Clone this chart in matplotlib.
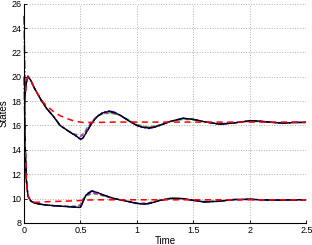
import matplotlib
matplotlib.use('Agg')
import matplotlib.pyplot as plt

plt.rcParams['font.family'] = ['Liberation Sans', 'DejaVu Sans']

# time grid
t = [0, 0.01, 0.02, 0.035, 0.06, 0.09, 0.12, 0.157, 0.2, 0.26, 0.32, 0.4, 0.45, 0.5, 0.52, 0.55,
     0.6, 0.65, 0.7, 0.75, 0.8, 0.85, 0.9, 0.95, 1.0, 1.05, 1.1, 1.15, 1.2, 1.3, 1.41, 1.5,
     1.6, 1.73, 1.85, 2.0, 2.1, 2.2, 2.3, 2.4, 2.5]

upper_black = [17.0, 18.6, 19.5, 20.05, 19.7, 19.1, 18.6, 18.0, 17.4, 16.75, 16.0, 15.5, 15.2, 14.9, 14.95, 15.4,
               16.2, 16.75, 17.05, 17.15, 17.05, 16.85, 16.55, 16.25, 16.0, 15.85, 15.8, 15.85, 16.0, 16.35, 16.6, 16.5,
               16.3, 16.1, 16.2, 16.4, 16.35, 16.25, 16.2, 16.25, 16.25]
upper_blue = [25.0, 18.6, 19.5, 20.05, 19.7, 19.1, 18.6, 18.0, 17.4, 16.75, 16.0, 15.5, 15.2, 14.85, 14.95, 15.4,
              16.2, 16.75, 17.1, 17.2, 17.1, 16.85, 16.55, 16.25, 16.0, 15.85, 15.75, 15.85, 16.0, 16.35, 16.6, 16.5,
              16.3, 16.1, 16.2, 16.4, 16.35, 16.25, 16.2, 16.25, 16.25]
upper_magenta = [17.0, 18.6, 19.5, 20.0, 19.7, 19.1, 18.6, 18.0, 17.4, 16.75, 16.0, 15.5, 15.25, 15.1, 15.2, 15.6,
                 16.3, 16.8, 17.0, 17.05, 17.0, 16.85, 16.55, 16.3, 16.05, 15.9, 15.85, 15.9, 16.05, 16.35, 16.55, 16.5,
                 16.3, 16.15, 16.2, 16.35, 16.35, 16.25, 16.2, 16.25, 16.25]
upper_green = [17.0, 18.6, 19.5, 20.0, 19.7, 19.1, 18.6, 18.0, 17.4, 16.75, 16.0, 15.5, 15.3, 15.2, 15.3, 15.7,
               16.35, 16.8, 16.95, 17.0, 16.95, 16.85, 16.6, 16.35, 16.1, 15.95, 15.9, 15.95, 16.05, 16.35, 16.5, 16.45,
               16.3, 16.15, 16.2, 16.35, 16.3, 16.25, 16.2, 16.25, 16.25]
upper_red = [17.0, 18.6, 19.5, 20.0, 19.7, 19.1, 18.6, 18.05, 17.6, 17.15, 16.8, 16.5, 16.35, 16.28, 16.25, 16.25,
             16.25, 16.25, 16.26, 16.27, 16.28, 16.28, 16.28, 16.28, 16.28, 16.28, 16.28, 16.28, 16.28, 16.28, 16.28, 16.28,
             16.28, 16.28, 16.28, 16.28, 16.28, 16.28, 16.28, 16.28, 16.28]

lower_black = [20.0, 14.5, 11.6, 10.2, 9.8, 9.65, 9.58, 9.52, 9.47, 9.42, 9.38, 9.33, 9.3, 9.28, 9.7, 10.3,
               10.6, 10.5, 10.3, 10.15, 10.0, 9.9, 9.8, 9.7, 9.6, 9.55, 9.58, 9.7, 9.85, 10.03, 10.0, 9.85,
               9.72, 9.78, 9.92, 9.95, 9.9, 9.88, 9.88, 9.9, 9.9]
lower_blue = [20.0, 14.5, 11.6, 10.2, 9.8, 9.65, 9.58, 9.52, 9.47, 9.42, 9.38, 9.33, 9.3, 9.25, 9.7, 10.35,
              10.65, 10.5, 10.3, 10.15, 10.0, 9.9, 9.8, 9.7, 9.6, 9.55, 9.58, 9.7, 9.85, 10.03, 10.0, 9.85,
              9.72, 9.78, 9.92, 9.95, 9.9, 9.88, 9.88, 9.9, 9.9]
lower_magenta = [20.0, 14.5, 11.6, 10.2, 9.8, 9.65, 9.58, 9.52, 9.47, 9.42, 9.38, 9.35, 9.35, 9.45, 9.9, 10.25,
                 10.45, 10.4, 10.25, 10.1, 10.0, 9.9, 9.8, 9.72, 9.63, 9.6, 9.63, 9.73, 9.85, 10.0, 9.98, 9.85,
                 9.75, 9.8, 9.9, 9.93, 9.9, 9.88, 9.88, 9.9, 9.9]
lower_green = [20.0, 14.5, 11.6, 10.2, 9.8, 9.65, 9.58, 9.52, 9.47, 9.42, 9.4, 9.37, 9.38, 9.5, 9.95, 10.2,
               10.4, 10.35, 10.22, 10.1, 10.0, 9.9, 9.82, 9.74, 9.65, 9.62, 9.65, 9.75, 9.85, 9.98, 9.97, 9.86,
               9.77, 9.8, 9.9, 9.92, 9.9, 9.88, 9.88, 9.9, 9.9]
lower_red = [20.0, 14.5, 11.6, 10.2, 9.8, 9.7, 9.7, 9.72, 9.74, 9.76, 9.78, 9.8, 9.82, 9.84, 9.86, 9.88,
             9.89, 9.9, 9.9, 9.9, 9.9, 9.9, 9.9, 9.9, 9.9, 9.9, 9.9, 9.9, 9.9, 9.9, 9.9, 9.9,
             9.9, 9.9, 9.9, 9.9, 9.9, 9.9, 9.9, 9.9, 9.9]

xticks = [0, 0.5, 1, 1.5, 2, 2.5]
xticklabels = ['0', '0.5', '1', '1.5', '2', '2.5']
yticks = [8, 10, 12, 14, 16, 18, 20, 22, 24, 26]

fig = plt.figure(figsize=(3.12, 2.45), dpi=100)
ax = fig.add_axes([0.077, 0.09, 0.905, 0.895])

for up, lo, style in [
        (upper_green, lower_green, dict(color='#00dd00', ls='--', lw=1.0, dashes=(3, 2), zorder=2)),
        (upper_magenta, lower_magenta, dict(color='magenta', ls='--', lw=1.0, dashes=(3, 2), zorder=2.1)),
        (upper_blue, lower_blue, dict(color='blue', ls='-.', lw=1.0, zorder=2.2, clip_on=False)),
        (upper_black, lower_black, dict(color='black', ls='-', lw=1.0, zorder=2.3)),
        (upper_red, lower_red, dict(color='red', ls='--', lw=1.1, dashes=(4, 3), zorder=2.4))]:
    ax.plot(t, up, **style)
    ax.plot(t, lo, **style)

ax.set_xlim(0, 2.5)
ax.set_ylim(8, 26)
ax.set_xticks(xticks)
ax.set_xticklabels(xticklabels)
ax.set_yticks(yticks)
ax.tick_params(direction='in', labelsize=6.5, length=2.5, width=0.6, pad=2)
ax.grid(True, ls=':', color='#b0b0b0', lw=0.7)
ax.spines['top'].set_visible(False)
ax.spines['right'].set_visible(False)
ax.spines['left'].set_linewidth(0.8)
ax.spines['bottom'].set_linewidth(0.8)
ax.set_xlabel('Time', fontsize=7, labelpad=1)
ax.set_ylabel('States', fontsize=7)
ax.yaxis.set_label_coords(-0.055, 0.5)

fig.savefig('out.png', dpi=100)
